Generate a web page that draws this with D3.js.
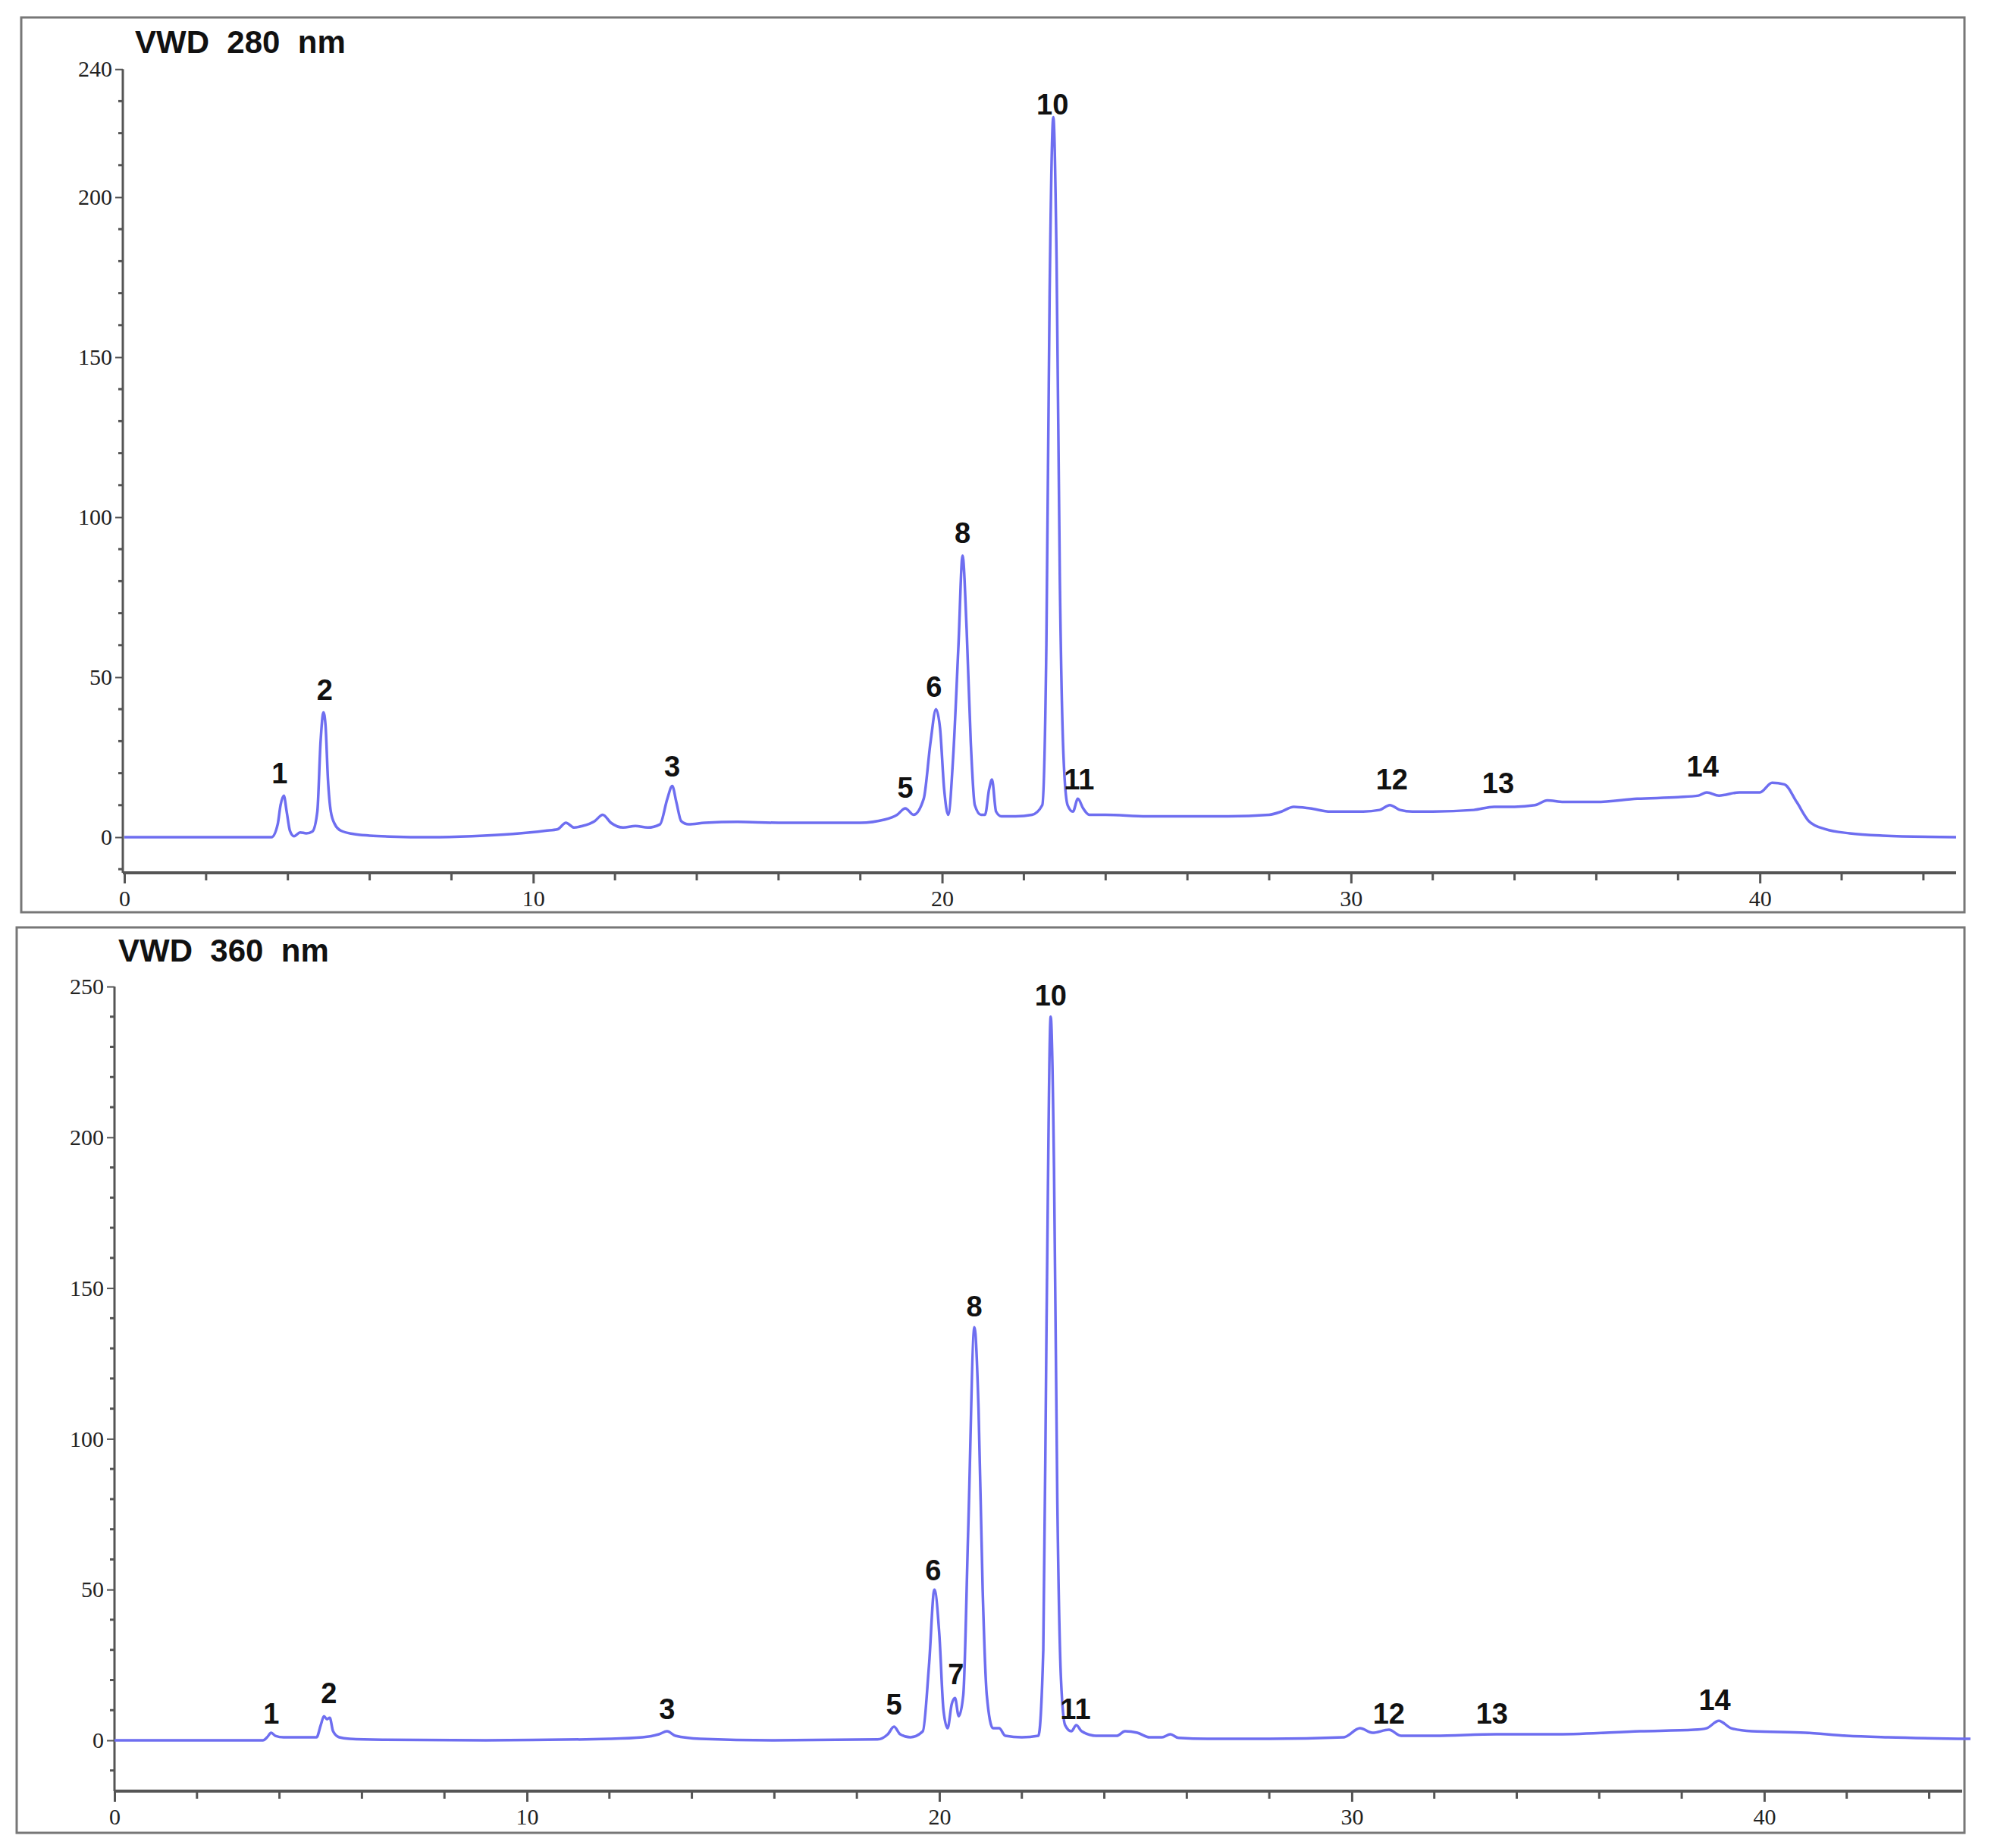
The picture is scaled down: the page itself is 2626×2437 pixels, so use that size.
<!DOCTYPE html>
<html><head><meta charset="utf-8">
<script src="https://cdn.jsdelivr.net/npm/d3@7"></script>
<style>body{margin:0;background:#fff}</style></head>
<body><svg id="c" width="2626" height="2437"></svg>
<script>
const titles = ["VWD  280  nm", "VWD  360  nm"];
const xTicks = [0,10,20,30,40];
const yTicks280 = [0,50,100,150,200,240];
const yTicks360 = [0,50,100,150,200,250];
const trace280 = [[0,0],[3.6,0],[3.75,4],[3.82,10],[3.9,13],[3.97,8],[4.05,2],[4.15,0.3],[4.3,1.5],[4.45,1.2],[4.6,1.8],[4.72,8],[4.8,30],[4.87,39],[4.92,35],[4.98,18],[5.05,8],[5.15,4],[5.3,2],[5.6,1],[6.0,0.5],[6.5,0.2],[7.5,0],[8.5,0.3],[9.5,1],[10.3,2],[10.6,2.5],[10.8,4.5],[11.0,3],[11.2,3.5],[11.5,5],[11.7,7],[11.9,4.5],[12.2,3],[12.5,3.5],[12.8,3],[13.1,4],[13.28,12],[13.4,16],[13.5,11],[13.62,5],[13.8,4],[14.2,4.5],[15,4.8],[16,4.5],[17,4.5],[18,4.5],[18.6,5.5],[18.9,7],[19.1,9],[19.3,7],[19.55,12],[19.72,30],[19.85,40],[19.95,34],[20.05,15],[20.15,7],[20.27,25],[20.4,60],[20.5,88],[20.6,65],[20.7,30],[20.8,10],[20.95,7],[21.05,7],[21.15,15],[21.22,18],[21.32,8],[21.45,6.5],[21.8,6.5],[22.2,7],[22.45,10],[22.55,60],[22.63,170],[22.72,225],[22.8,180],[22.88,80],[22.97,25],[23.07,10],[23.2,8],[23.32,12],[23.45,9],[23.6,7],[24,7],[25,6.5],[26,6.5],[27,6.5],[28,7],[28.3,8],[28.6,9.5],[29,9],[29.5,8],[30.3,8],[30.7,8.5],[30.95,10],[31.2,8.5],[31.5,8],[32,8],[33,8.5],[33.5,9.5],[34,9.5],[34.5,10],[34.8,11.5],[35.2,11],[36,11],[37,12],[38,12.5],[38.5,13],[38.7,14],[39,13],[39.5,14],[40.0,14],[40.3,17],[40.6,16.5],[40.9,11],[41.2,5],[41.6,2.5],[42.2,1.2],[43,0.5],[44.8,0]];
const trace360 = [[0,0],[3.6,0],[3.7,1],[3.8,2.5],[3.9,1.5],[4.1,1],[4.6,1],[4.9,1],[5.0,5],[5.08,8],[5.15,7],[5.22,7.5],[5.3,3],[5.45,1],[5.7,0.5],[6.5,0.2],[9,0],[12,0.5],[12.8,1],[13.2,2],[13.4,3],[13.6,1.5],[14.2,0.5],[16,0],[18.5,0.3],[18.75,2],[18.9,4.5],[19.05,2],[19.3,1],[19.6,3],[19.75,25],[19.88,50],[20.0,35],[20.1,10],[20.2,4],[20.3,12],[20.38,14],[20.47,8],[20.58,15],[20.7,70],[20.85,137],[20.95,110],[21.05,50],[21.15,15],[21.3,4],[21.45,4],[21.6,1.5],[22.0,1],[22.4,1.5],[22.52,30],[22.6,140],[22.7,240],[22.78,190],[22.86,80],[22.95,20],[23.05,5],[23.2,3],[23.32,5],[23.45,3],[23.8,1.5],[24.3,1.5],[24.5,3],[24.8,2.5],[25.1,1],[25.4,1],[25.6,2],[25.8,0.8],[26.5,0.5],[28,0.5],[29.8,1],[30.2,4],[30.5,2.5],[30.9,3.5],[31.2,1.5],[32,1.5],[33.5,2],[35,2],[37,3],[38.3,3.5],[38.6,4],[38.9,6.5],[39.2,4],[39.7,3],[41,2.5],[42,1.5],[43,1],[45,0.5]];
const peakLabels280 = [["1",3.8,20],["2",4.9,46],["3",13.4,22],["5",19.1,15.5],["6",19.8,47],["8",20.5,95],["10",22.7,229],["11",23.35,18],["12",31.0,18],["13",33.6,17],["14",38.6,22]];
const peakLabels360 = [["1",3.8,9],["2",5.2,15.6],["3",13.4,10.5],["5",18.9,12],["6",19.85,56.5],["7",20.4,22],["8",20.85,144],["10",22.7,247],["11",23.3,10.5],["12",30.9,9],["13",33.4,9],["14",38.8,13.5]];

const svg = d3.select("#c");
const panels = [
 {frame:[28,23,2563,1180], title:[178,70], ax:162, x0:164, x1:2580, xmax:44.8, xAxisY:1151, y0:1104, ppu:4.22, ymin:-11, ymax:240, yt:yTicks280, data:trace280, labels:peakLabels280, ti:0},
 {frame:[22,1223,2569,1194], title:[156,1268], ax:151, x0:151, x1:2588, xmax:44.8, xAxisY:2362, y0:2295, ppu:3.976, ymin:-17, ymax:250, yt:yTicks360, data:trace360, labels:peakLabels360, ti:1}
];
panels.forEach(p=>{
  const g = svg.append("g");
  g.append("rect").attr("x",p.frame[0]).attr("y",p.frame[1]).attr("width",p.frame[2]).attr("height",p.frame[3])
   .attr("fill","none").attr("stroke","#777").attr("stroke-width",3);
  g.append("text").attr("x",p.title[0]).attr("y",p.title[1]).text(titles[p.ti])
   .attr("font-family","Liberation Sans Narrow, Arial Narrow, Liberation Sans, sans-serif").attr("font-weight","bold")
   .attr("font-size",42).attr("fill","#111").style("white-space","pre");
  const x = d3.scaleLinear().domain([0,p.xmax]).range([p.x0,p.x1]);
  const y = d3.scaleLinear().domain([0,p.ymax]).range([p.y0,p.y0-p.ymax*p.ppu]);
  const yAxisBottom = p.xAxisY;
  // y axis
  const ya = d3.axisLeft(y).tickValues(p.yt).tickSize(10).tickFormat(d3.format("d"));
  const yg = g.append("g").attr("transform",`translate(${p.ax},0)`).call(ya);
  yg.select(".domain").remove();
  g.append("line").attr("x1",p.ax).attr("x2",p.ax).attr("y1",y(p.ymax)).attr("y2",yAxisBottom).attr("stroke","#555").attr("stroke-width",3);
  const ym = d3.range(-10,p.ymax,10).filter(v=>!p.yt.includes(v));
  g.selectAll(".ym").data(ym).join("line").attr("x1",p.ax-6).attr("x2",p.ax).attr("y1",d=>y(d)).attr("y2",d=>y(d)).attr("stroke","#555").attr("stroke-width",3);
  yg.selectAll(".tick line").attr("stroke","#555").attr("stroke-width",2);
  yg.selectAll(".tick text").attr("font-family","Liberation Serif, Times New Roman, serif").attr("font-size",30).attr("fill","#222").attr("x",-14);
  // x axis
  const xa = d3.axisBottom(x).tickValues(xTicks).tickSize(14).tickFormat(d3.format("d"));
  const xg = g.append("g").attr("transform",`translate(0,${p.xAxisY})`).call(xa);
  xg.select(".domain").remove();
  g.append("line").attr("x1",p.ax).attr("x2",p.x1).attr("y1",p.xAxisY).attr("y2",p.xAxisY).attr("stroke","#555").attr("stroke-width",4);
  const xm = d3.range(2,p.xmax,2).filter(v=>!xTicks.includes(v));
  g.selectAll(".xm").data(xm).join("line").attr("x1",d=>x(d)).attr("x2",d=>x(d)).attr("y1",p.xAxisY).attr("y2",p.xAxisY+10).attr("stroke","#555").attr("stroke-width",3);
  xg.selectAll(".tick line").attr("stroke","#555").attr("stroke-width",3);
  xg.selectAll(".tick text").attr("font-family","Liberation Serif, Times New Roman, serif").attr("font-size",30).attr("fill","#222").attr("dy","0.9em");
  // trace
  const line = d3.line().x(d=>x(d[0])).y(d=>y(d[1])).curve(d3.curveMonotoneX);
  g.append("path").datum(p.data).attr("d",line).attr("fill","none").attr("stroke","#6e6ef0").attr("stroke-width",3.5).attr("stroke-linejoin","round");
  g.selectAll(".pl").data(p.labels).join("text").attr("x",d=>x(d[1])).attr("y",d=>y(d[2])).attr("dy","0.35em")
   .attr("text-anchor","middle").text(d=>d[0]).attr("font-family","Liberation Sans, Arial, sans-serif").attr("font-weight","bold")
   .attr("font-size",38).attr("fill","#111");
});
</script></body></html>
